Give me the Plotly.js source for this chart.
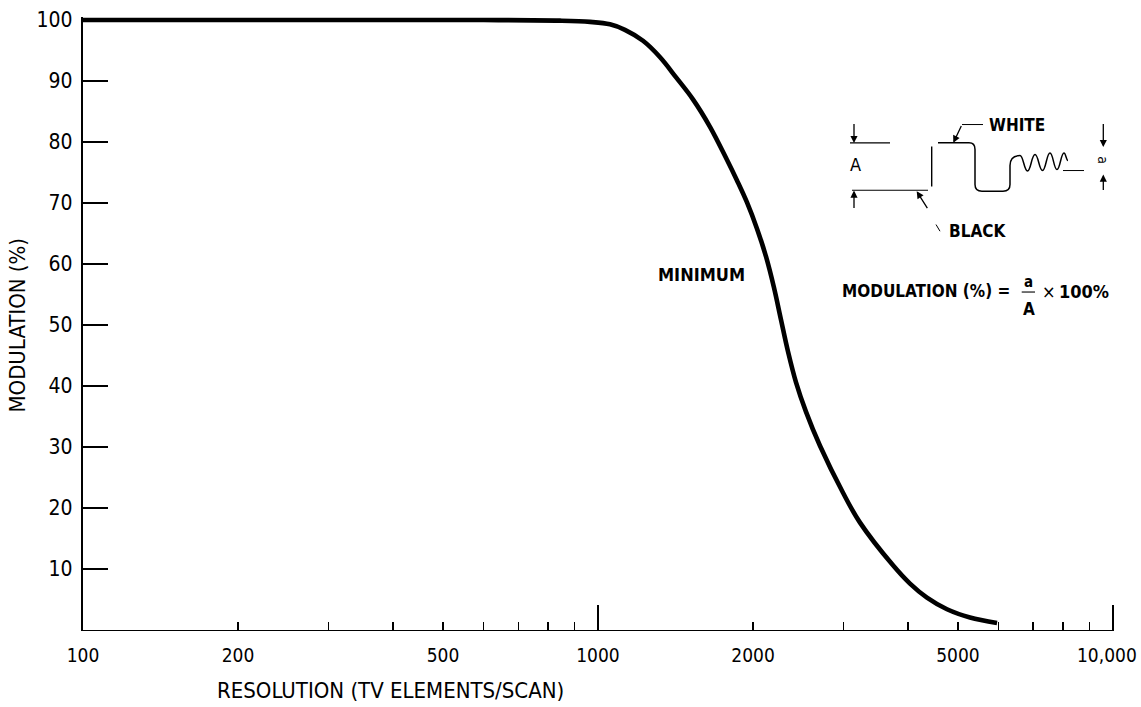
<!DOCTYPE html>
<html>
<head>
<meta charset="utf-8">
<script src="https://cdn.plot.ly/plotly-3.0.1.min.js"></script>
<style>
  html, body { margin: 0; padding: 0; background: #fff; }
  #chart { width: 1141px; height: 707px; }
</style>
</head>
<body>
<div id="chart"></div>
<script>
// ---- data ----
const resolution = [100, 300, 600, 844, 965, 1055, 1128, 1223, 1320, 1418, 1529, 1650, 1780, 1862, 1947, 2036, 2120, 2197, 2266, 2338, 2424, 2534, 2698, 2991, 3227, 3740, 4035, 4353, 4761, 5277, 5955];
const modulation = [100, 100, 100, 99.9, 99.7, 99.3, 98.4, 96.6, 93.9, 90.6, 87.0, 82.5, 77.1, 73.7, 70.1, 65.8, 61.2, 56.1, 50.9, 45.7, 40.6, 35.8, 30.2, 22.5, 17.6, 10.6, 7.6, 5.3, 3.4, 2.05, 1.15];

const xLabelVals = [100, 200, 500, 1000, 2000, 5000, 10000];
const xLabelText = ['100', '200', '500', '1000', '2000', '5000', ''];
const lastXLabel = '10,000';   // drawn as an annotation so it stays inside the page
const xMinorVals = [300, 400, 600, 700, 800, 900, 3000, 4000, 6000, 7000, 8000, 9000];
const xTallTicks = [1000, 10000];
const yTickVals = [10, 20, 30, 40, 50, 60, 70, 80, 90, 100];
const yTickText = ['10', '20', '30', '40', '50', '60', '70', '80', '90', '100'];

// ---- layout geometry ----
const W = 1141, H = 707;
const XR = [2, 4.002];
const M = { l: 83, r: 27, t: 17.45, b: 76.5 };
const plotW = W - M.l - M.r;
const plotH = H - M.t - M.b;
const PX = px => (px - M.l) / plotW;          // pixel -> paper x
const PY = py => (H - M.b - py) / plotH;      // pixel -> paper y

const NARROW = '"Liberation Sans Narrow", "Arial Narrow", "DejaVu Sans Condensed", sans-serif';

function path(cmds) {
  return cmds.map(c => {
    const pts = [];
    for (let i = 1; i < c.length; i += 2) pts.push(PX(c[i]).toFixed(5) + ',' + PY(c[i + 1]).toFixed(5));
    return c[0] + ' ' + pts.join(' ');
  }).join(' ');
}
function seg(x0, y0, x1, y1, w) {
  return { type: 'line', xref: 'paper', yref: 'paper', x0: PX(x0), y0: PY(y0), x1: PX(x1), y1: PY(y1),
           line: { color: '#000', width: w || 1.3 } };
}
function txt(text, x, y, size, bold, extra) {
  return Object.assign({ xref: 'paper', yref: 'paper', x: PX(x), y: PY(y), text: bold ? '<b>' + text + '</b>' : text,
           showarrow: false, xanchor: 'center', yanchor: 'middle',
           font: { family: NARROW, size: size, color: '#000' } }, extra || {});
}
function arrow(tipX, tipY, tailX, tailY) {
  return { xref: 'paper', yref: 'paper', x: PX(tipX), y: PY(tipY), ax: tailX - tipX, ay: tailY - tipY,
           axref: 'pixel', ayref: 'pixel', text: '', showarrow: true, arrowhead: 2, arrowsize: 1.1,
           arrowwidth: 1.3, arrowcolor: '#000' };
}

// wave for the inset sketch
const wavePts = [[1020, 156], [1027.5, 171.5], [1035, 155], [1042.5, 171], [1050, 153.5], [1057, 170], [1064, 153.5], [1068, 161]];
const waveCmds = [['M', 938, 143.3], ['L', 969, 143.3], ['Q', 975, 143.3, 975, 150], ['L', 975, 185],
  ['Q', 975, 191.7, 982, 191.7], ['L', 1003, 191.7], ['Q', 1010, 191.7, 1010, 185], ['L', 1010, 166],
  ['C', 1010, 158, 1015, 156, 1020, 156]];
for (let i = 1; i < wavePts.length; i++) {
  const [x0, y0] = wavePts[i - 1], [x1, y1] = wavePts[i];
  const dx = x1 - x0;
  waveCmds.push(['C', x0 + dx * 0.45, y0, x1 - dx * 0.45, y1, x1, y1]);
}

const shapes = [
  seg(850, 143.3, 890, 143.3, 1.1),
  seg(852, 190.7, 928, 190.7, 1.1),
  seg(931.7, 187, 931.7, 147, 1.4),
  { type: 'path', xref: 'paper', yref: 'paper', path: path(waveCmds), line: { color: '#000', width: 1.5 } },
  seg(1063, 171, 1084, 171, 1.0),
  seg(962, 125, 983, 125, 1.0),
  seg(936, 225, 940, 231.7, 1.0),
  seg(1021.7, 292.5, 1035, 292.5, 1.1)
];

const annotations = [
  // axis titles
  txt('MODULATION (%)', 18, 326, 22, false, { textangle: -90 }),
  txt('RESOLUTION (TV ELEMENTS/SCAN)', 390, 691, 22, false),
  // last x tick label, kept inside the page
  txt(lastXLabel, 1139, 656, 19, false, { xanchor: 'right' }),
  // curve label
  txt('MINIMUM', 701.7, 275, 18, true),
  // inset
  arrow(854, 143.5, 854, 123),
  arrow(854, 191, 854, 210),
  txt('A', 855, 165, 18, false),
  arrow(953.3, 143.3, 962, 125),
  txt('WHITE', 1017, 125, 17, true),
  arrow(916.7, 191.7, 928.3, 210),
  txt('BLACK', 977.5, 231.7, 17, true),
  arrow(1103.3, 147.5, 1103.3, 123),
  arrow(1103.3, 175, 1103.3, 192),
  txt('a', 1103.3, 161, 14, false, { textangle: 90 }),
  // formula
  txt('MODULATION (%) =', 1012, 291, 17, true, { xanchor: 'right' }),
  txt('a', 1028.5, 282, 15, true),
  txt('A', 1028.5, 309, 17, true),
  txt('×', 1049, 292, 18, false),
  txt('100%', 1057, 292, 18, true, { xanchor: 'left' })
];

const traces = [
  { x: resolution, y: modulation, type: 'scatter', mode: 'lines',
    line: { color: '#000', width: 4.6, shape: 'spline', smoothing: 1.0 },
    hoverinfo: 'x+y', showlegend: false },
  { x: xTallTicks, y: [null, null], xaxis: 'x2', yaxis: 'y', type: 'scatter', mode: 'lines',
    hoverinfo: 'skip', showlegend: false }
];

const layout = {
  width: W, height: H,
  margin: M,
  paper_bgcolor: '#fff', plot_bgcolor: '#fff',
  showlegend: false,
  font: { family: NARROW, color: '#000' },
  xaxis: {
    type: 'log', range: XR, showgrid: false, zeroline: false,
    showline: true, linecolor: '#000', linewidth: 1.4,
    ticks: 'inside', ticklen: 8, tickwidth: 1.4, tickcolor: '#000',
    tickmode: 'array', tickvals: xLabelVals, ticktext: xLabelText,
    tickfont: { family: NARROW, size: 19, color: '#000' },
    ticklabelstandoff: 8,
    minor: { tickmode: 'array', tickvals: xMinorVals, ticks: 'inside', ticklen: 8, tickwidth: 1.4, tickcolor: '#000', showgrid: false }
  },
  xaxis2: {
    type: 'log', range: XR, overlaying: 'x', anchor: 'y', side: 'bottom',
    showgrid: false, zeroline: false, showline: false, showticklabels: false,
    ticks: 'inside', ticklen: 25, tickwidth: 1.8, tickcolor: '#000',
    tickmode: 'array', tickvals: xTallTicks
  },
  yaxis: {
    range: [0, 100.5], showgrid: false, zeroline: false,
    showline: true, linecolor: '#000', linewidth: 2.2,
    ticks: 'inside', ticklen: 25, tickwidth: 1.4, tickcolor: '#000',
    tickmode: 'array', tickvals: yTickVals, ticktext: yTickText,
    tickfont: { family: NARROW, size: 21, color: '#000' },
    ticklabelstandoff: 4
  },
  shapes: shapes,
  annotations: annotations
};

Plotly.newPlot('chart', traces, layout, { displayModeBar: false, staticPlot: true });
</script>
</body>
</html>
